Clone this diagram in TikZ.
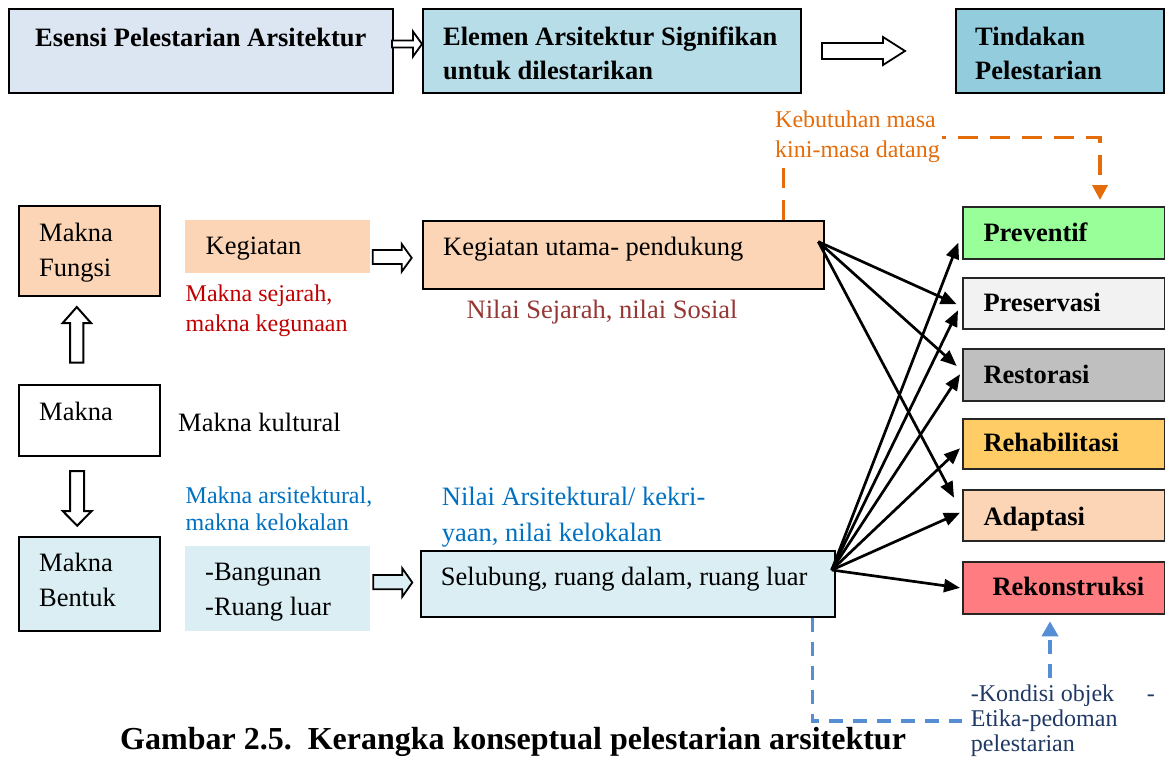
\documentclass[tikz,border=0pt]{standalone}
\usepackage{fontspec}
\setmainfont{Liberation Serif}
\usetikzlibrary{arrows.meta,calc}
\definecolor{cA}{HTML}{DCE6F2}
\definecolor{cB}{HTML}{B7DEE8}
\definecolor{cC}{HTML}{93CDDD}
\definecolor{peach}{HTML}{FBD5B5}
\definecolor{lblue}{HTML}{DAEEF3}
\definecolor{lgreen}{HTML}{99FF99}
\definecolor{lgray}{HTML}{F2F2F2}
\definecolor{mgray}{HTML}{BFBFBF}
\definecolor{yell}{HTML}{FFCC66}
\definecolor{salmon}{HTML}{FF7C80}
\definecolor{myorange}{HTML}{E46C0A}
\definecolor{dred}{HTML}{C00000}
\definecolor{brown}{HTML}{953735}
\definecolor{tblue}{HTML}{0070C0}
\definecolor{dblue}{HTML}{558ED5}
\definecolor{navy}{HTML}{1F3864}
\newcommand\ml[2]{\vtop{\baselineskip=#1\relax\lineskiplimit=-100pt #2}}
\begin{document}
\begin{tikzpicture}[x=1pt,y=-1pt,
  box/.style={draw, line width=2.2pt, inner sep=0, anchor=north west},
  pbox/.style={inner sep=0, anchor=north west},
  rbox/.style={draw=black!85, line width=2pt, inner sep=0, anchor=north west, minimum width=201.5pt},
  tx/.style={inner sep=0, anchor=base west, font=\fontsize{26.5}{34}\selectfont},
  sm/.style={inner sep=0, anchor=base west, font=\fontsize{24}{30}\selectfont},
  bf/.style={inner sep=0, anchor=base west, font=\fontsize{26.5}{34}\selectfont\bfseries},
  conn/.style={line width=2.7pt, -{Triangle[length=16pt,width=13pt]}},
  hollow/.style={draw, line width=1.8pt, line join=miter},
  odash/.style={draw=myorange, line width=3.5pt, dash pattern=on 20pt off 12pt},
  bdash/.style={draw=dblue, line width=3.5pt, dash pattern=on 14pt off 10pt},
]
\useasboundingbox (0,0) rectangle (1165,761);

% header boxes
\node[box, fill=cA, minimum width=384pt, minimum height=84pt] (esensi) at (8,8) {};
\node[box, fill=cB, minimum width=378pt, minimum height=84pt] (elemen) at (422,8) {};
\node[box, fill=cC, minimum width=208pt, minimum height=84pt] (tindakan) at (955,8) {};
\node[bf] (esensiT) at (35,46) {Esensi Pelestarian Arsitektur};
\node[bf] (elemenT) at (443,45) {\ml{34pt}{\hbox{Elemen Arsitektur Signifikan}\hbox{untuk dilestarikan}}};
\node[bf] (tindakanT) at (975,45) {\ml{34pt}{\hbox{Tindakan}\hbox{Pelestarian}}};

% header arrows
\draw[hollow, fill=white] (392,40.5) -- (413,40.5) -- (413,31.5) -- (422,44) -- (413,56.5) -- (413,47.5) -- (392,47.5) -- cycle;
\draw[hollow, fill=white] (822,43) -- (883,43) -- (883,37) -- (905,51) -- (883,65) -- (883,59) -- (822,59) -- cycle;

% left column
\node[box, fill=peach, minimum width=141pt, minimum height=90pt] (fungsi) at (17.5,205) {};
\node[box, fill=white, minimum width=141pt, minimum height=71pt] (makna) at (17.5,384) {};
\node[box, fill=lblue, minimum width=141pt, minimum height=94pt] (bentuk) at (17.5,536) {};
\node[tx] (fungsiT) at (39,241.7) {\ml{35pt}{\hbox{Makna}\hbox{Fungsi}}};
\node[tx] (maknaT) at (39,420) {Makna};
\node[tx] (bentukT) at (39,571) {\ml{35.7pt}{\hbox{Makna}\hbox{Bentuk}}};
\draw[hollow, line width=2pt, fill=white] (70,362.7) -- (70,323) -- (62.7,323) -- (76.8,307) -- (91,323) -- (83.3,323) -- (83.3,362.7) -- cycle;
\draw[hollow, line width=2pt, fill=white] (70,471) -- (84,471) -- (84,511) -- (91.7,511) -- (77.2,525.7) -- (62.7,511) -- (70,511) -- cycle;
\node[tx] (kultural) at (178,431.5) {Makna kultural};

% second column
\node[pbox, fill=peach, minimum width=185pt, minimum height=53pt] (keg) at (185,220) {};
\node[tx] (kegT) at (205.5,254) {Kegiatan};
\node[sm, text=dred] (sejarah) at (185.5,301) {\ml{30.5pt}{\hbox{Makna sejarah,}\hbox{makna kegunaan}}};
\node[sm, text=tblue] (arsit) at (185.5,503) {\ml{27pt}{\hbox{Makna arsitektural,}\hbox{makna kelokalan}}};
\node[pbox, fill=lblue, minimum width=185pt, minimum height=85pt] (bang) at (185,546) {};
\node[tx] (bangT) at (205,580) {\ml{35.7pt}{\hbox{-Bangunan}\hbox{-Ruang luar}}};
\draw[hollow, fill=white] (372.7,250) -- (401.7,250) -- (401.7,244) -- (411.7,257.9) -- (401.7,271.7) -- (401.7,264) -- (372.7,264) -- cycle;
\draw[hollow, fill=lblue] (373.3,575) -- (402.3,575) -- (402.3,568.3) -- (412.3,582.5) -- (402.3,596.7) -- (402.3,589.3) -- (373.3,589.3) -- cycle;

% third column
\node[box, fill=peach, minimum width=400.5pt, minimum height=68pt] (ku) at (422,219.5) {};
\node[tx] (kuT) at (443,255) {Kegiatan utama- pendukung};
\node[tx, text=brown] (nsej) at (466.5,318.3) {Nilai Sejarah, nilai Sosial};
\node[tx, text=tblue] (narsit) at (441.7,505) {\ml{36pt}{\hbox{Nilai Arsitektural/ kekri-}\hbox{yaan, nilai kelokalan}}};
\node[box, fill=lblue, minimum width=414pt, minimum height=65.5pt] (sel) at (420,550) {};
\node[tx] (selT) at (440.7,585) {Selubung, ruang dalam, ruang luar};

% right boxes
\node[rbox, fill=lgreen, minimum height=52pt] (pv) at (962.3,205.7) {};
\node[rbox, fill=lgray, minimum height=51pt] (ps) at (962.3,276.7) {};
\node[rbox, fill=mgray, minimum height=51.7pt] (rs) at (962.3,348.3) {};
\node[rbox, fill=yell, minimum height=50.6pt] (rh) at (962.3,417.7) {};
\node[rbox, fill=peach, minimum height=51pt] (ad) at (962.3,489) {};
\node[rbox, fill=salmon, minimum height=51.7pt] (rk) at (962.3,561) {};
\node[bf] (pvT) at (983.3,241.7) {Preventif};
\node[bf] (psT) at (983.3,311) {Preservasi};
\node[bf] (rsT) at (983.3,383.3) {Restorasi};
\node[bf] (rhT) at (983.3,451.7) {Rehabilitasi};
\node[bf] (adT) at (983.3,525) {Adaptasi};
\node[bf] (rkT) at (992.3,595.7) {Rekonstruksi};

% connectors
\coordinate (ko) at (818.3,241.7);
\coordinate (so) at (831.7,570);
\draw[conn] (ko) -- ($(ps.west)+(-5.6,1.1)$);
\draw[conn] (ko) -- ($(rs.west)+(-5.6,-9.2)$);
\draw[conn] (ko) -- ($(ad.west)+(-8.3,-17.8)$);
\draw[conn] (so) -- ($(pv.west)+(-4,10)$);
\draw[conn] (so) -- ($(ps.west)+(-4.3,7.1)$);
\draw[conn] (so) -- ($(rs.west)+(-2.3,-0.9)$);
\draw[conn] (so) -- ($(rh.west)+(-2.3,4.3)$);
\draw[conn] (so) -- ($(ad.west)+(-2.3,-2.8)$);
\draw[conn] (so) -- ($(rk.west)+(-2.3,0)$);

% orange dashed
\draw[odash, -{Triangle[length=15pt,width=15pt]}] ($(ku.north west)+(361.3,0)$) |- ($(pv.north west)+(137.7,-68)$) -- ($(pv.north west)+(137.7,-5.7)$);
\node[sm, text=myorange, fill=white, inner sep=2pt] (kebut) at (773,127.6) {\ml{29.5pt}{\hbox{Kebutuhan masa}\hbox{kini-masa datang}}};

% blue dashed
\coordinate (bEnd) at (962,721);
\coordinate (bS) at (1050,678);
\draw[bdash] ($(sel.south west)+(392.3,0)$) |- (bEnd);
\draw[bdash, -{Triangle[length=15pt,width=16pt]}] (bS) -- ($(rk.south west)+(87.7,6.6)$);
\node[sm, text=navy, font=\fontsize{24}{25}\selectfont] (kd) at (970.7,701.7) {\ml{25pt}{\hbox to 184pt{-Kondisi objek\hfil-}\hbox{Etika-pedoman}\hbox{pelestarian}}};

% caption
\node[inner sep=0, anchor=base west, font=\fontsize{32}{38}\selectfont\bfseries] (cap) at (120,749) {Gambar 2.5.\ \ Kerangka konseptual pelestarian arsitektur};
\end{tikzpicture}
\end{document}
